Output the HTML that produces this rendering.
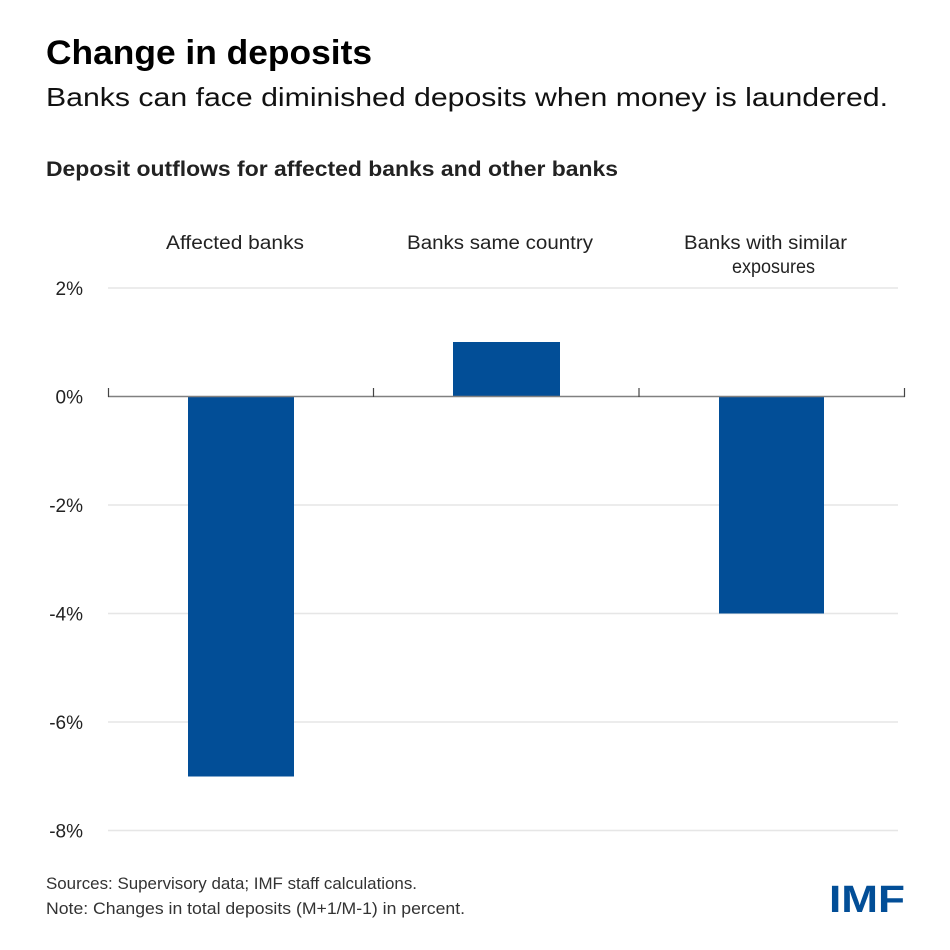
<!DOCTYPE html>
<html>
<head>
<meta charset="utf-8">
<style>
html,body{margin:0;padding:0;background:#fff;}
svg{display:block;}
text{font-family:"Liberation Sans",sans-serif;}
</style>
</head>
<body>
<svg width="950" height="950" viewBox="0 0 950 950" xmlns="http://www.w3.org/2000/svg">
<rect x="0" y="0" width="950" height="950" fill="#fff"/>
<!-- Titles -->
<text x="46" y="64" font-size="34" font-weight="bold" fill="#000" textLength="326" lengthAdjust="spacingAndGlyphs">Change in deposits</text>
<text x="46" y="106" font-size="26" fill="#111" textLength="842" lengthAdjust="spacingAndGlyphs">Banks can face diminished deposits when money is laundered.</text>
<text x="46" y="176" font-size="21" font-weight="bold" fill="#222" textLength="572" lengthAdjust="spacingAndGlyphs">Deposit outflows for affected banks and other banks</text>

<!-- Category labels -->
<text x="166" y="249" font-size="19" fill="#222" textLength="138" lengthAdjust="spacingAndGlyphs">Affected banks</text>
<text x="407" y="249" font-size="19" fill="#222" textLength="186" lengthAdjust="spacingAndGlyphs">Banks same country</text>
<text x="684" y="249" font-size="19" fill="#222" textLength="163" lengthAdjust="spacingAndGlyphs">Banks with similar</text>
<text x="732" y="273" font-size="19" fill="#222" textLength="83" lengthAdjust="spacingAndGlyphs">exposures</text>

<!-- Gridlines -->
<g stroke="#e6e6e6" stroke-width="1.5">
<line x1="108" y1="288" x2="898" y2="288"/>
<line x1="108" y1="505" x2="898" y2="505"/>
<line x1="108" y1="613.5" x2="898" y2="613.5"/>
<line x1="108" y1="722" x2="898" y2="722"/>
<line x1="108" y1="830.5" x2="898" y2="830.5"/>
</g>

<!-- Y labels -->
<g font-size="19" fill="#222" text-anchor="end">
<text x="83" y="295">2%</text>
<text x="83" y="403.5">0%</text>
<text x="83" y="512">-2%</text>
<text x="83" y="620.5">-4%</text>
<text x="83" y="729">-6%</text>
<text x="83" y="837.5">-8%</text>
</g>

<!-- Bars -->
<rect x="188" y="396.5" width="106" height="380" fill="#024e97"/>
<rect x="453" y="342" width="107" height="54.5" fill="#024e97"/>
<rect x="719" y="396.5" width="105" height="217" fill="#024e97"/>

<!-- Axis -->
<line x1="108" y1="396.5" x2="905" y2="396.5" stroke="#808080" stroke-width="1.6"/>
<g stroke="#444" stroke-width="1.2">
<line x1="108.5" y1="388" x2="108.5" y2="397"/>
<line x1="373.5" y1="388" x2="373.5" y2="397"/>
<line x1="639" y1="388" x2="639" y2="397"/>
<line x1="904.5" y1="388" x2="904.5" y2="397"/>
</g>

<!-- Footer -->
<text x="46" y="889" font-size="17" fill="#333" textLength="371" lengthAdjust="spacingAndGlyphs">Sources: Supervisory data; IMF staff calculations.</text>
<text x="46" y="914" font-size="17" fill="#333" textLength="419" lengthAdjust="spacingAndGlyphs">Note: Changes in total deposits (M+1/M-1) in percent.</text>

<!-- Logo -->
<text x="829" y="912" font-size="38" font-weight="bold" fill="#024e97" textLength="76" lengthAdjust="spacingAndGlyphs">IMF</text>
</svg>
</body>
</html>
